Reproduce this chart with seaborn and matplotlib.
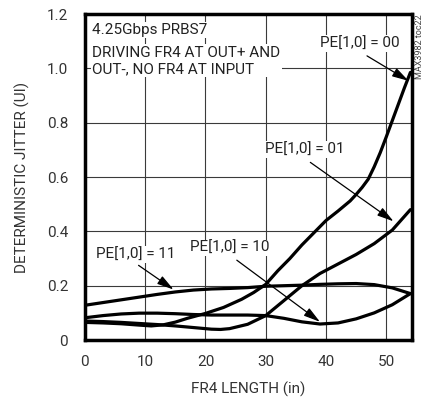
import numpy as np
import pandas as pd
import seaborn as sns
import matplotlib.pyplot as plt

# FR4 length (in) vs deterministic jitter (UI)
x_pe00 = [0, 3, 6, 9, 11, 13, 15, 17, 20, 23, 26, 28, 30, 32, 34, 36, 38, 40, 42, 44, 45, 46, 47, 48, 49, 50, 51, 52,
          53, 54]
y_pe00 = [0.065, 0.063, 0.060, 0.055, 0.052, 0.056, 0.066, 0.080, 0.098, 0.120, 0.150, 0.175, 0.205, 0.255, 0.300,
          0.350, 0.395, 0.440, 0.475, 0.512, 0.536, 0.562, 0.592, 0.638, 0.690, 0.748, 0.808, 0.868, 0.928, 0.985]

x_pe01 = [0, 3, 6, 9, 12, 15, 18, 21, 22.5, 24, 27, 30, 33, 36, 39, 42, 45, 48, 51, 54]
y_pe01 = [0.070, 0.068, 0.065, 0.061, 0.057, 0.052, 0.046, 0.040, 0.039, 0.042, 0.058, 0.090, 0.145, 0.200, 0.245,
          0.280, 0.315, 0.355, 0.405, 0.480]

x_pe10 = [0, 3, 6, 9, 12, 15, 18, 21, 24, 27, 30, 33, 36, 39, 42, 45, 48, 51, 54]
y_pe10 = [0.082, 0.090, 0.096, 0.099, 0.099, 0.097, 0.094, 0.092, 0.092, 0.092, 0.090, 0.080, 0.067, 0.059, 0.063,
          0.078, 0.100, 0.130, 0.171]

x_pe11 = [0, 3, 6, 9, 12, 15, 18, 21, 24, 27, 30, 33, 36, 39, 42, 45, 48, 51, 54]
y_pe11 = [0.128, 0.138, 0.148, 0.158, 0.168, 0.177, 0.184, 0.188, 0.190, 0.193, 0.198, 0.200, 0.202, 0.205, 0.207,
          0.208, 0.204, 0.192, 0.171]

series = {"00": (x_pe00, y_pe00), "01": (x_pe01, y_pe01), "10": (x_pe10, y_pe10), "11": (x_pe11, y_pe11)}
df = pd.concat([pd.DataFrame({"length": xs, "jitter": ys, "pe": k}) for k, (xs, ys) in series.items()],
               ignore_index=True)

sns.set_style("white")
plt.rcParams["font.family"] = ["Roboto", "DejaVu Sans"]

fig = plt.figure(figsize=(4.31, 4.01), dpi=100)
ax = fig.add_axes([0.197, 0.152, 0.758, 0.813])

sns.lineplot(data=df, x="length", y="jitter", hue="pe", units="pe", estimator=None, sort=False,
             palette={k: "black" for k in series}, linewidth=2.3, legend=False, ax=ax)

ax.set_xlim(0, 54.2)
ax.set_ylim(0, 1.2)
ax.set_xticks(np.arange(0, 51, 10))
ax.set_yticks([0, 0.2, 0.4, 0.6, 0.8, 1.0, 1.2])
ax.set_yticklabels(["0", "0.2", "0.4", "0.6", "0.8", "1.0", "1.2"])
ax.grid(True, color="#3a3a3a", linewidth=0.8)
ax.set_axisbelow(True)
ax.tick_params(axis="y", length=0, labelsize=11, labelcolor="#333333", pad=12)
ax.tick_params(axis="x", length=0, labelsize=11, labelcolor="#333333", pad=11)
for s in ax.spines.values():
    s.set_linewidth(2.5)
    s.set_color("black")

ax.set_xlabel("FR4 LENGTH (in)", fontsize=11, color="#333333", labelpad=9)
ax.set_ylabel("DETERMINISTIC JITTER (UI)", fontsize=11, color="#333333", labelpad=12)

box = dict(facecolor="white", edgecolor="none", pad=1.0)
ax.text(1.2, 1.141, "4.25Gbps PRBS7", fontsize=11, va="center", ha="left", bbox=box, color="#222222")
ax.text(1.2, 1.028, "DRIVING FR4 AT OUT+ AND\nOUT-, NO FR4 AT INPUT", fontsize=11, va="center", ha="left",
        linespacing=1.2, bbox=box, color="#222222")

arrow = dict(arrowstyle="-|>,head_length=1.0,head_width=0.28", color="black", lw=0.9,
             shrinkA=0, shrinkB=0)
labels = [
    ("PE[1,0] = 00", (39.0, 1.092), (46.8, 1.046), (53.7, 0.954)),
    ("PE[1,0] = 01", (29.9, 0.700), (37.4, 0.654), (51.2, 0.437)),
    ("PE[1,0] = 11", (1.9, 0.315), (8.9, 0.275), (14.7, 0.186)),
    ("PE[1,0] = 10", (17.4, 0.339), (25.2, 0.294), (39.0, 0.067)),
]
for txt, pos, start, tip in labels:
    ax.text(pos[0], pos[1], txt, fontsize=11, va="center", ha="left", bbox=box, color="#222222")
    ax.annotate("", xy=tip, xytext=start, arrowprops=arrow)

fig.text(420 / 431, 1 - 47 / 401, "MAX3982 toc22", rotation=90, fontsize=6.5, ha="center", va="center",
         color="#444444")

fig.savefig("out.png", dpi=100)
